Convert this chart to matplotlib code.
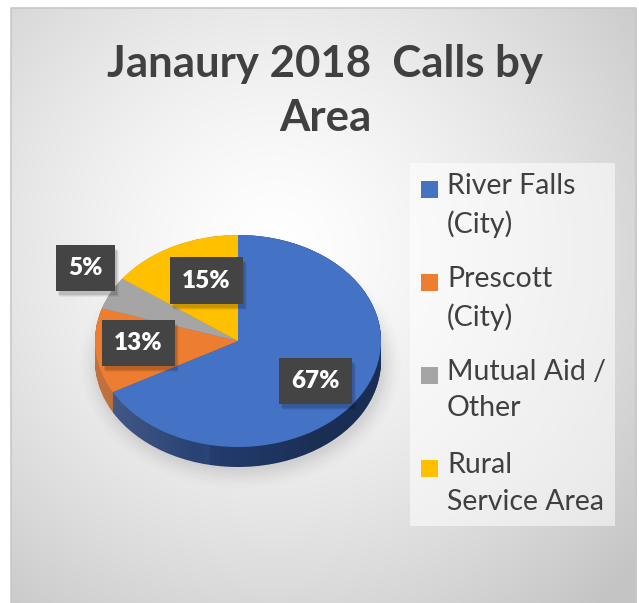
import numpy as np
import matplotlib
matplotlib.use("Agg")
import matplotlib.pyplot as plt
from matplotlib.patches import Rectangle, Polygon, Ellipse

# ---- data ----
categories = ["River Falls (City)", "Prescott (City)", "Mutual Aid / Other", "Rural Service Area"]
legend_labels = ["River Falls\n(City)", "Prescott\n(City)", "Mutual Aid /\nOther", "Rural\nService Area"]
values = [67, 13, 5, 15]
pct_labels = ["67%", "13%", "5%", "15%"]
title = "Janaury 2018  Calls by\nArea"

# ---- style ----
top_colors = ["#4472C4", "#ED7D31", "#A5A5A5", "#FFC000"]
side_colors = ["#253F72", "#B5591C", "#7C7C7C", "#BF9000"]
label_radius = [(0.63, 0.74), (0.70, 0.2), (1.2, 1.52), (0.49, 0.64)]

W, H = 639, 603
fig = plt.figure(figsize=(W / 100, H / 100), dpi=100)
fig.patch.set_facecolor("white")

# background gradient (pixel coords)
bg = fig.add_axes([0, 0, 1, 1])
bg.set_xlim(0, W)
bg.set_ylim(H, 0)
bg.axis("off")
yy, xx = np.mgrid[0:H, 0:W]
r = np.hypot(xx - 275, (yy - 250) * 1.0) / 450.0
val = np.clip(1.0 - 0.21 * r ** 1.4, 0.77, 1.0)
img = np.dstack([val, val, val])
mask = (xx >= 11) & (yy >= 8) & (xx <= 636)
img[~mask] = 1.0
bg.imshow(img, extent=(0, W, H, 0), interpolation="bilinear", zorder=0)
bg.plot([11, 11, 636, 636], [H, 8, 8, H], color="#c8c8c8", lw=1.2, zorder=1)

# legend box
bg.add_patch(Rectangle((410, 163), 205, 363, facecolor="white", alpha=0.55,
                       edgecolor="none", zorder=2))

# title
fig.text(325 / W, 1 - 91 / H, title, ha="center", va="center",
         fontsize=31.5, fontweight="bold", family="Lato", color="#404040",
         linespacing=1.45)

# ---- pie ----
cx, cy, rx, ry = 238, 341, 143, 106
xl, yl_top, yl_bot = 1.2, 1.2, 1.5
ax = fig.add_axes([(cx - xl * rx) / W, 1 - (cy + yl_bot * ry) / H,
                   2 * xl * rx / W, (yl_top + yl_bot) * ry / H])
ax.axis("off")
depth = 20 / ry

# soft shadow under the pie
for k, a in enumerate(np.linspace(0.05, 0.012, 8)):
    ax.add_patch(Ellipse((0.02, -depth - 0.03), 2.0 + 0.035 * k, 2.0 + 0.05 * k,
                         facecolor="#808080", alpha=a, edgecolor="none", zorder=0))

n_layers = 24
for i, off in enumerate(np.linspace(-depth, 0, n_layers)):
    ax.pie(values, colors=side_colors, startangle=90, counterclock=False,
           center=(0, off), radius=1.0, wedgeprops=dict(linewidth=0),
           frame=False)
    for w in ax.patches[-len(values):]:
        w.set_zorder(1)

# side shading overlay
gx = np.linspace(-1, 1, 400)
alpha_white = np.clip((-0.2 - gx) / 0.8, 0, 1) * 0.16
alpha_black = np.clip((gx + 0.3) / 0.9, 0, 1) * 0.28
rgba = np.zeros((1, 400, 4))
rgba[0, :, :3] = np.where(alpha_white[:, None] > 0, 1.0, 0.0)
rgba[0, :, 3] = alpha_white + alpha_black
t = np.linspace(0, np.pi, 100)
upper = np.column_stack([np.cos(t), np.sin(t)])
lower = np.column_stack([np.cos(t + np.pi), np.sin(t + np.pi) - depth])
stadium = Polygon(np.vstack([upper, lower]), closed=True, transform=ax.transData,
                  facecolor="none", edgecolor="none")
ax.add_patch(stadium)
im = ax.imshow(rgba, extent=(-1, 1, -1 - depth, 1), aspect="auto", zorder=2,
               interpolation="bilinear")
im.set_clip_path(stadium)

wedges, _ = ax.pie(values, colors=top_colors, startangle=90, counterclock=False,
                   center=(0, 0), radius=1.0, wedgeprops=dict(linewidth=0),
                   frame=False)
for w in wedges:
    w.set_zorder(3)

ax.set_aspect("auto")
ax.set_xlim(-xl, xl)
ax.set_ylim(-yl_bot, yl_top)

# data labels
total = float(sum(values))
cum = 0.0
label_texts = []
for v, lab, (fx, fy) in zip(values, pct_labels, label_radius):
    mid = (cum + v / 2.0) / total * 2 * np.pi
    cum += v
    lx, ly = np.sin(mid) * fx, np.cos(mid) * fy
    tt = ax.text(lx, ly, lab, ha="center", va="center", fontsize=17.5,
                 fontweight="heavy", family="Lato", color="white", zorder=6,
                 bbox=dict(boxstyle="square,pad=0.5", facecolor="#444444",
                           edgecolor="none", linewidth=0))
    label_texts.append(tt)

# drop shadows for the label boxes (below the boxes)
fig.canvas.draw()
renderer = fig.canvas.get_renderer()
for tt in label_texts:
    bb = tt.get_bbox_patch().get_window_extent(renderer)
    for k, a in enumerate([0.10, 0.07, 0.05]):
        sh = Rectangle((bb.x0 + 2 + k, bb.y0 - 4 - k), bb.width, bb.height,
                       facecolor="black", alpha=a, edgecolor="none")
        sh.set_transform(matplotlib.transforms.IdentityTransform())
        sh.set_clip_on(False)
        sh.set_zorder(5)
        ax.add_artist(sh)

# ---- legend (manual, Excel-like) ----
ly0, lstep = 190, 93
for i, (lab, col) in enumerate(zip(legend_labels, top_colors)):
    yc = ly0 + i * lstep
    bg.add_patch(Rectangle((421, yc - 9), 17, 17, facecolor=col,
                           edgecolor="none", zorder=3))
    bg.text(447, yc - 17, lab, ha="left", va="top", fontsize=20.5,
            family="Lato", color="#404040", linespacing=1.5, zorder=3)

fig.savefig("out.png", dpi=100)
